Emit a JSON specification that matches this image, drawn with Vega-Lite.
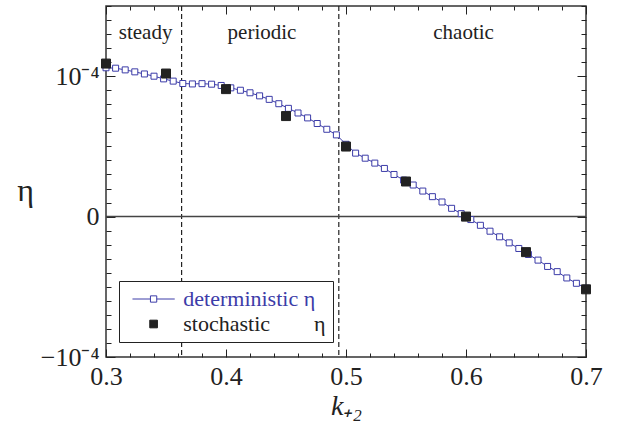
{
  "$schema": "https://vega.github.io/schema/vega-lite/v6.json",
  "width": 480,
  "height": 351,
  "autosize": "none",
  "padding": {"left": 106, "top": 6, "right": 37, "bottom": 70},
  "background": "white",
  "config": {
    "font": "Liberation Serif",
    "view": {"stroke": "#333333", "strokeWidth": 1.5},
    "legend": {"labelFont": "Liberation Serif"},
    "axis": {"grid": false, "domainColor": "#333333", "domainWidth": 1.5, "tickColor": "#222222", "tickWidth": 1, "labelFont": "Liberation Serif", "titleFont": "Liberation Serif", "labelColor": "#222222", "titleColor": "#222222", "titleFontWeight": "normal"}
  },
  "datasets": {
    "pts": [
      {"series": "deterministic", "x": 0.300, "y": 1.06},
      {"series": "deterministic", "x": 0.308, "y": 1.057},
      {"series": "deterministic", "x": 0.316, "y": 1.045},
      {"series": "deterministic", "x": 0.324, "y": 1.031},
      {"series": "deterministic", "x": 0.332, "y": 1.016},
      {"series": "deterministic", "x": 0.340, "y": 1.0},
      {"series": "deterministic", "x": 0.348, "y": 0.981},
      {"series": "deterministic", "x": 0.356, "y": 0.965},
      {"series": "deterministic", "x": 0.364, "y": 0.948},
      {"series": "deterministic", "x": 0.372, "y": 0.945},
      {"series": "deterministic", "x": 0.380, "y": 0.947},
      {"series": "deterministic", "x": 0.388, "y": 0.943},
      {"series": "deterministic", "x": 0.396, "y": 0.934},
      {"series": "deterministic", "x": 0.404, "y": 0.917},
      {"series": "deterministic", "x": 0.412, "y": 0.900},
      {"series": "deterministic", "x": 0.420, "y": 0.882},
      {"series": "deterministic", "x": 0.428, "y": 0.860},
      {"series": "deterministic", "x": 0.436, "y": 0.835},
      {"series": "deterministic", "x": 0.444, "y": 0.804},
      {"series": "deterministic", "x": 0.452, "y": 0.771},
      {"series": "deterministic", "x": 0.460, "y": 0.738},
      {"series": "deterministic", "x": 0.468, "y": 0.703},
      {"series": "deterministic", "x": 0.476, "y": 0.663},
      {"series": "deterministic", "x": 0.484, "y": 0.622},
      {"series": "deterministic", "x": 0.492, "y": 0.582},
      {"series": "deterministic", "x": 0.500, "y": 0.515},
      {"series": "deterministic", "x": 0.508, "y": 0.452},
      {"series": "deterministic", "x": 0.516, "y": 0.416},
      {"series": "deterministic", "x": 0.524, "y": 0.381},
      {"series": "deterministic", "x": 0.532, "y": 0.343},
      {"series": "deterministic", "x": 0.540, "y": 0.300},
      {"series": "deterministic", "x": 0.548, "y": 0.260},
      {"series": "deterministic", "x": 0.556, "y": 0.225},
      {"series": "deterministic", "x": 0.564, "y": 0.182},
      {"series": "deterministic", "x": 0.572, "y": 0.142},
      {"series": "deterministic", "x": 0.580, "y": 0.104},
      {"series": "deterministic", "x": 0.588, "y": 0.059},
      {"series": "deterministic", "x": 0.596, "y": 0.021},
      {"series": "deterministic", "x": 0.604, "y": -0.021},
      {"series": "deterministic", "x": 0.612, "y": -0.062},
      {"series": "deterministic", "x": 0.620, "y": -0.104},
      {"series": "deterministic", "x": 0.628, "y": -0.144},
      {"series": "deterministic", "x": 0.636, "y": -0.187},
      {"series": "deterministic", "x": 0.644, "y": -0.227},
      {"series": "deterministic", "x": 0.652, "y": -0.270},
      {"series": "deterministic", "x": 0.660, "y": -0.310},
      {"series": "deterministic", "x": 0.668, "y": -0.355},
      {"series": "deterministic", "x": 0.676, "y": -0.392},
      {"series": "deterministic", "x": 0.684, "y": -0.437},
      {"series": "deterministic", "x": 0.692, "y": -0.475},
      {"series": "deterministic", "x": 0.700, "y": -0.510},
      {"series": "stochastic", "x": 0.30, "y": 1.09},
      {"series": "stochastic", "x": 0.35, "y": 1.019},
      {"series": "stochastic", "x": 0.40, "y": 0.908},
      {"series": "stochastic", "x": 0.45, "y": 0.716},
      {"series": "stochastic", "x": 0.50, "y": 0.499},
      {"series": "stochastic", "x": 0.55, "y": 0.25},
      {"series": "stochastic", "x": 0.60, "y": 0.0},
      {"series": "stochastic", "x": 0.65, "y": -0.253},
      {"series": "stochastic", "x": 0.70, "y": -0.518}
    ],
    "bounds": [{"xb": 0.363}, {"xb": 0.494}],
    "zero": [{"yz": 0}],
    "regions": [
      {"label": "steady", "xr": 0.333, "yr": 1.305},
      {"label": "periodic", "xr": 0.43, "yr": 1.305},
      {"label": "chaotic", "xr": 0.598, "yr": 1.305}
    ]
  },
  "layer": [
    {
      "data": {"name": "bounds"},
      "mark": {"type": "rule", "color": "#222222", "strokeWidth": 1.2, "strokeDash": [5, 3]},
      "encoding": {
        "x": {"field": "xb", "type": "quantitative", "scale": {"domain": [0.3, 0.7], "nice": false, "zero": false},
          "axis": {"orient": "top", "title": null, "values": [0.3,0.32,0.34,0.36,0.38,0.4,0.42,0.44,0.46,0.48,0.5,0.52,0.54,0.56,0.58,0.6,0.62,0.64,0.66,0.68,0.7], "labels": false, "domain": false,
            "tickSize": {"condition": {"test": "abs(datum.value*10 - round(datum.value*10)) < 0.001", "value": -8}, "value": -4}}}
      }
    },
    {
      "data": {"name": "zero"},
      "mark": {"type": "rule", "color": "#444444", "strokeWidth": 1.5},
      "encoding": {
        "y": {"field": "yz", "type": "quantitative", "scale": {"domain": [-1, 1.5], "nice": false, "zero": false},
          "axis": {"orient": "right", "title": null, "values": [-1,-0.9,-0.8,-0.7,-0.6,-0.5,-0.4,-0.3,-0.2,-0.1,0,0.1,0.2,0.3,0.4,0.5,0.6,0.7,0.8,0.9,1,1.1,1.2,1.3,1.4,1.5], "labels": false, "domain": false,
            "tickSize": {"condition": {"test": "abs(datum.value - round(datum.value)) < 0.001", "value": -9}, "value": -5}}}
      }
    },
    {
      "data": {"name": "pts"},
      "transform": [{"filter": "datum.series == 'deterministic'"}],
      "mark": {"type": "line", "color": "#3c3ca8", "strokeWidth": 1},
      "encoding": {
        "x": {"field": "x", "type": "quantitative",
          "axis": {"orient": "bottom", "title": "k₊₂", "titleFontSize": 28, "titleFontStyle": "italic", "titleBaseline": "middle", "titleY": 49,
            "values": [0.3,0.32,0.34,0.36,0.38,0.4,0.42,0.44,0.46,0.48,0.5,0.52,0.54,0.56,0.58,0.6,0.62,0.64,0.66,0.68,0.7],
            "labelExpr": "abs(datum.value*10 - round(datum.value*10)) < 0.001 ? format(datum.value, '.1f') : ''",
            "labelFontSize": 26, "labelPadding": 14, "labelFlush": false, "domain": false,
            "tickSize": {"condition": {"test": "abs(datum.value*10 - round(datum.value*10)) < 0.001", "value": -8}, "value": -4}}},
        "y": {"field": "y", "type": "quantitative",
          "axis": {"orient": "left", "title": "η", "titleFontSize": 32, "titleAngle": 0, "titleAlign": "center", "titleBaseline": "middle", "titleX": -81, "titleY": 184,
            "values": [-1,-0.9,-0.8,-0.7,-0.6,-0.5,-0.4,-0.3,-0.2,-0.1,0,0.1,0.2,0.3,0.4,0.5,0.6,0.7,0.8,0.9,1,1.1,1.2,1.3,1.4,1.5],
            "labelExpr": "datum.value == 1 ? '10⁻⁴' : datum.value == 0 ? '0' : datum.value == -1 ? '−10⁻⁴' : ''",
            "labelFontSize": 26, "labelPadding": 16, "labelFlush": false, "domain": false,
            "tickSize": {"condition": {"test": "abs(datum.value - round(datum.value)) < 0.001", "value": -9}, "value": -5}}}
      }
    },
    {
      "data": {"name": "pts"},
      "transform": [{"filter": "datum.series == 'deterministic'"}],
      "mark": {"type": "point", "shape": "square", "size": 36, "strokeWidth": 1, "opacity": 1},
      "encoding": {
        "x": {"field": "x", "type": "quantitative", "axis": null},
        "y": {"field": "y", "type": "quantitative", "axis": null},
        "fill": {"field": "series", "type": "nominal", "scale": {"domain": ["deterministic", "stochastic"], "range": ["#ffffff", "#222222"]}},
        "stroke": {"field": "series", "type": "nominal", "scale": {"domain": ["deterministic", "stochastic"], "range": ["#3c3ca8", "#222222"]}}
      }
    },
    {
      "data": {"name": "pts"},
      "transform": [{"filter": "datum.series == 'stochastic'"}],
      "mark": {"type": "point", "size": 81, "strokeWidth": 1, "opacity": 1},
      "encoding": {
        "x": {"field": "x", "type": "quantitative", "axis": null},
        "y": {"field": "y", "type": "quantitative", "axis": null},
        "fill": {"field": "series", "type": "nominal"},
        "stroke": {"field": "series", "type": "nominal"},
        "shape": {"field": "series", "type": "nominal",
          "scale": {"domain": ["deterministic", "stochastic"], "range": ["M-5.5,0H-0.82M0.82,0H5.5M-0.82,-0.82H0.82V0.82H-0.82Z", "M-1,-1H1V1H-1Z"]},
          "legend": {"orient": "none", "legendX": 13, "legendY": 275, "title": null, "padding": 7, "rowPadding": 3,
            "strokeColor": "#222222", "fillColor": "#ffffff", "symbolSize": 59, "symbolStrokeWidth": 1, "symbolOffset": 16.6, "labelOffset": 18.7,
            "labelFont": "Liberation Serif", "labelFontSize": 22, "labelLimit": 400,
            "labelColor": {"expr": "datum.value == 'deterministic' ? '#3c3ca8' : '#222222'"},
            "labelExpr": "datum.value == 'deterministic' ? 'deterministic η' : 'stochastic\u00a0\u00a0\u00a0\u00a0\u00a0\u00a0\u00a0\u00a0η'"}}
      }
    },
    {
      "data": {"name": "regions"},
      "mark": {"type": "text", "font": "Liberation Serif", "fontSize": 21, "color": "#222222", "baseline": "middle", "align": "center"},
      "encoding": {
        "x": {"field": "xr", "type": "quantitative", "axis": null},
        "y": {"field": "yr", "type": "quantitative", "axis": null},
        "text": {"field": "label"}
      }
    }
  ],
  "resolve": {"axis": {"x": "independent", "y": "independent"}}
}
